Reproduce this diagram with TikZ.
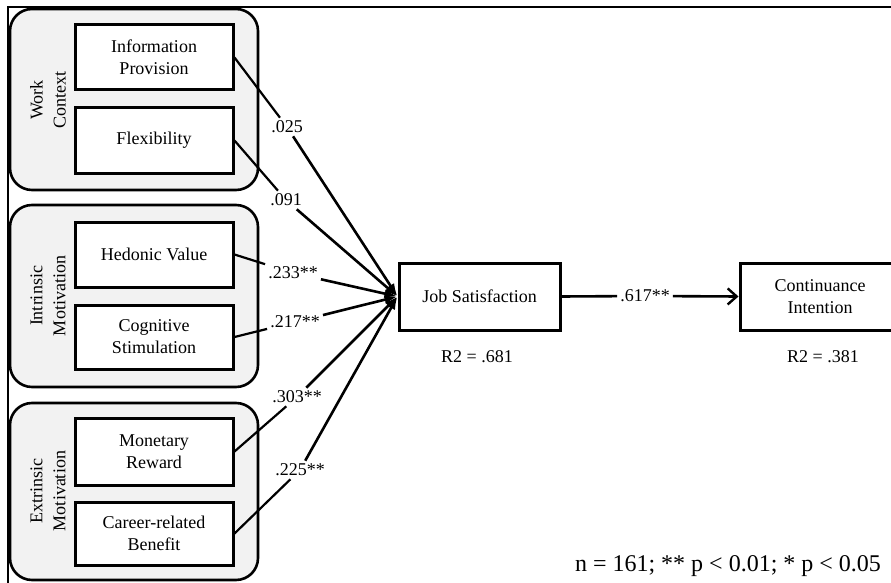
\documentclass[tikz,border=0pt]{standalone}
\usepackage{fontspec}
\setmainfont{Liberation Serif}
\usetikzlibrary{arrows.meta}
\definecolor{groupgray}{RGB}{242,242,242}
\begin{document}
\begin{tikzpicture}[x=1pt,y=-1pt,
  grp/.style={draw, line width=2.6pt, fill=groupgray, rounded corners=22pt, inner sep=0pt},
  inbox/.style={draw, line width=3pt, fill=white, minimum width=158pt, align=center, inner sep=0pt, font=\fontsize{18}{22}\selectfont},
  grplabel/.style={rotate=90, align=center, font=\fontsize{18}{23}\selectfont},
  coef/.style={inner sep=3pt, font=\fontsize{18}{22}\selectfont},
  plain/.style={font=\fontsize{18}{22}\selectfont},
  segA/.style={line width=2.2pt},
  segB/.style={line width=2.6pt, -{Latex[length=13pt,width=9pt]}},
]
\useasboundingbox (0,0) rectangle (891,583);
% outer frame
\draw[line width=1.5pt] (8,583) -- (8,7) -- (891,7);
% groups
\node[grp, minimum width=248pt, minimum height=181pt] (g1) at (134,99.5) {};
\node[grp, minimum width=248pt, minimum height=182pt] (g2) at (134,296) {};
\node[grp, minimum width=248pt, minimum height=177pt] (g3) at (134,491.5) {};
\node[grplabel] (g1l) at (48,100) {Work\\Context};
\node[grplabel] (g2l) at (48,296) {Intrinsic\\Motivation};
\node[grplabel] (g3l) at (48,491) {Extrinsic\\Motivation};
% inner boxes
\node[inbox, minimum height=65pt] (ip) at (154,57.5) {Information\\Provision};
\node[inbox, minimum height=65pt] (fx) at (154,140.5) {Flexibility};
\node[inbox, minimum height=65pt] (hv) at (154,254.5) {Hedonic Value};
\node[inbox, minimum height=64pt] (cs) at (154,337) {Cognitive\\Stimulation};
\node[inbox, minimum height=67pt] (mr) at (154,451.5) {Monetary\\Reward};
\node[inbox, minimum height=63pt] (cb) at (154,533.5) {Career-related\\Benefit};
% outcome boxes
\node[inbox, minimum width=161pt, minimum height=67pt] (js) at (479.5,296.5) {Job Satisfaction};
\node[inbox, minimum width=160pt, minimum height=67pt] (ci) at (820,296.5) {Continuance\\Intention};
\node[plain] (r1) at (477,357) {R2 = .681};
\node[plain] (r2) at (823,357) {R2 = .381};
% coefficient labels
\node[coef] (l1) at (287,127) {.025};
\node[coef] (l2) at (286,200) {.091};
\node[coef] (l3) at (293,273) {.233**};
\node[coef] (l4) at (295,322) {.217**};
\node[coef] (l5) at (297,397) {.303**};
\node[coef] (l6) at (300,470) {.225**};
\node[coef] (l7) at (645,296) {.617**};
% connectors
\draw[segA] (ip.east) -- (l1);
\draw[segA] (fx.east) -- (l2);
\draw[segA] (hv.east) -- (l3);
\draw[segA] (cs.east) -- (l4);
\draw[segA] (mr.east) -- (l5);
\draw[segA] (cb.east) -- (l6);
\draw[segB] (l1) -- (js.west);
\draw[segB] (l2) -- (js.west);
\draw[segB] (l3) -- (js.west);
\draw[segB] (l4) -- (js.west);
\draw[segB] (l5) -- (js.west);
\draw[segB] (l6) -- (js.west);
\draw[line width=2.6pt] (js.east) -- (l7);
\draw[line width=2.6pt, -{Straight Barb[length=9pt,width=16pt,line width=2.4pt]}] (l7) -- (ci.west);
% footnote
\node[font=\fontsize{24}{28}\selectfont] (fn) at (728,566) {n = 161; ** p < 0.01; * p < 0.05};
\end{tikzpicture}
\end{document}
